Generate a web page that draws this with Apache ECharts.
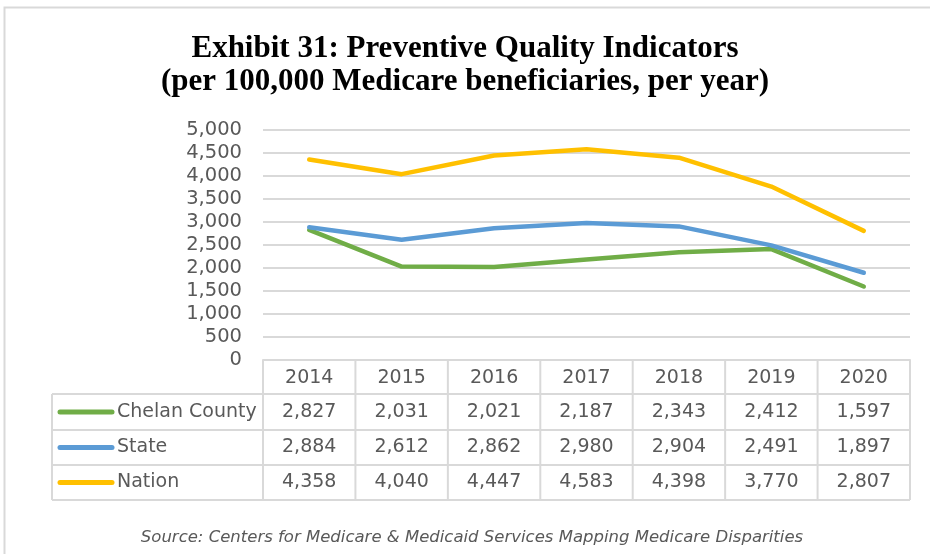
<!DOCTYPE html>
<html><head><meta charset="utf-8">
<script src="https://cdn.jsdelivr.net/npm/echarts@6/dist/echarts.min.js"></script>
<style>html,body{margin:0;padding:0;background:#fff}#c{width:930px;height:554px}</style>
</head><body><div id="c"></div>
<script>
const categories = ['2014','2015','2016','2017','2018','2019','2020'];
const seriesNames = ['Chelan County','State','Nation'];
const chelan = [2827,2031,2021,2187,2343,2412,1597];
const state = [2884,2612,2862,2980,2904,2491,1897];
const nation = [4358,4040,4447,4583,4398,3770,2807];
const colors = ['#70AD47','#5B9BD5','#FFC000'];
const yTicks = [0,500,1000,1500,2000,2500,3000,3500,4000,4500,5000];
const allData = [chelan, state, nation];

const FONT = 'DejaVu Sans';
const TXT = '#595959';
const LINE = '#d9d9d9';
const fmt = v => v.toLocaleString('en-US');

const chart = echarts.init(document.getElementById('c'), null, {renderer:'canvas'});
chart.setOption({
  animation:false,
  backgroundColor:'#fff',
  title:{
    text:'Exhibit 31: Preventive Quality Indicators\n(per 100,000 Medicare beneficiaries, per year)',
    left:'center', top:27,
    textStyle:{fontFamily:'Liberation Serif', fontWeight:'bold', fontSize:31, lineHeight:33, color:'#000'}
  },
  grid:{left:263, right:20, top:130, bottom:194, containLabel:false},
  xAxis:{type:'category', data:categories, boundaryGap:true,
    axisLine:{show:true, lineStyle:{color:LINE, width:2}}, axisTick:{show:false}, axisLabel:{show:false}},
  yAxis:{type:'value', min:yTicks[0], max:yTicks[yTicks.length-1], interval:500,
    axisLine:{show:false}, axisTick:{show:false},
    splitLine:{lineStyle:{color:LINE, width:2}},
    axisLabel:{fontFamily:FONT, fontSize:19.5, color:TXT, margin:21, formatter:v=>fmt(v)}},
  series: allData.map((d,i)=>({
    name:seriesNames[i], type:'line', data:d, symbol:'none', smooth:false,
    lineStyle:{color:colors[i], width:4.5, cap:'round', join:'round'}, z:3+i
  }))
});

function drawTable(){
  const xs = categories.map((c,i)=>chart.convertToPixel({xAxisIndex:0}, i));
  const band = xs[1]-xs[0];
  const left0 = xs[0]-band/2, right0 = xs[xs.length-1]+band/2;
  const rowTops = [360, 394, 430, 465, 500];
  const tableLeft = 52;
  const g = [];
  const ln = (x1,y1,x2,y2)=>g.push({type:'line', shape:{x1,y1,x2,y2}, style:{stroke:LINE, lineWidth:2}, z:10});
  ln(left0, rowTops[0], right0, rowTops[0]);
  for(let r=1;r<rowTops.length;r++) ln(tableLeft, rowTops[r], right0, rowTops[r]);
  for(let i=0;i<=categories.length;i++){ const x=left0+i*band; ln(x, rowTops[0], x, rowTops[4]); }
  ln(tableLeft, rowTops[1], tableLeft, rowTops[4]);
  categories.forEach((c,i)=>g.push({type:'text', x:xs[i], y:(rowTops[0]+rowTops[1])/2+1,
    style:{text:c, fill:TXT, font:'19px "'+FONT+'"', textAlign:'center', textVerticalAlign:'middle'}, z:11}));
  allData.forEach((d,r)=>{
    const cy=(rowTops[r+1]+rowTops[r+2])/2;
    d.forEach((v,i)=>g.push({type:'text', x:xs[i], y:cy,
      style:{text:fmt(v), fill:TXT, font:'19px "'+FONT+'"', textAlign:'center', textVerticalAlign:'middle'}, z:11}));
    g.push({type:'line', shape:{x1:60,y1:cy,x2:112,y2:cy}, style:{stroke:colors[r], lineWidth:5, lineCap:'round'}, z:11});
    g.push({type:'text', x:117, y:cy, style:{text:seriesNames[r], fill:TXT, font:'19px "'+FONT+'"', textAlign:'left', textVerticalAlign:'middle'}, z:11});
  });
  g.push({type:'text', x:472, y:538, style:{text:'Source: Centers for Medicare & Medicaid Services Mapping Medicare Disparities',
    fill:TXT, font:'italic 16.5px "'+FONT+'"', textAlign:'center', textVerticalAlign:'middle'}, z:11});
  g.push({type:'polyline', shape:{points:[[4.5,560],[4.5,7.5],[935,7.5]]}, style:{stroke:LINE, lineWidth:2, fill:null}, z:1});
  chart.setOption({graphic:{elements:g}});
}
drawTable();
</script></body></html>
